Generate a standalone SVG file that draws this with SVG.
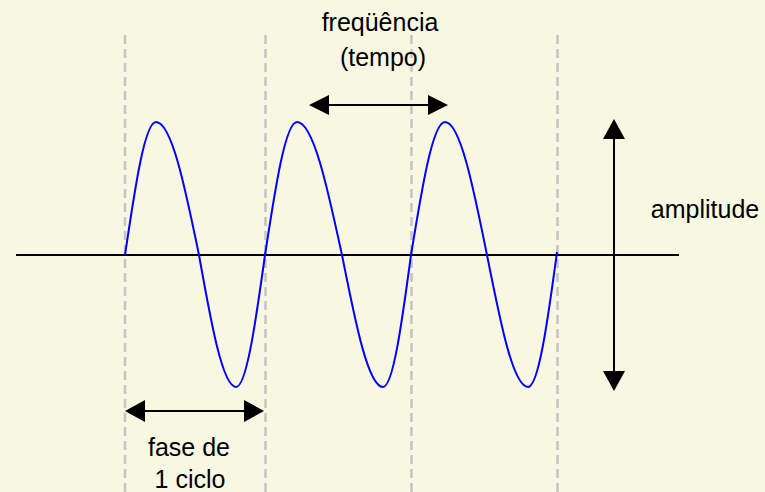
<svg xmlns="http://www.w3.org/2000/svg" width="765" height="492" viewBox="0 0 765 492">
<style>
.grid{stroke:#c4c4c4;stroke-width:2.5;stroke-dasharray:9,5;fill:none}
.axis{stroke:#000;stroke-width:2;fill:none}
.wave{stroke:#0000ff;stroke-width:2;fill:none;stroke-linejoin:round}
.arr{stroke:#000;stroke-width:2;fill:none}
.head{fill:#000;stroke:none}
.lbl{font-family:"Liberation Sans",Arial,sans-serif;font-size:25px;fill:#000;text-anchor:middle}
</style>
<rect x="0" y="0" width="765" height="492" fill="#f8f7e1"/>
<g id="gridlines">
<line class="grid" x1="125" y1="35" x2="125" y2="492"/>
<line class="grid" x1="265.5" y1="35" x2="265.5" y2="492"/>
<line class="grid" x1="411.5" y1="35" x2="411.5" y2="492"/>
<line class="grid" x1="557.5" y1="35" x2="557.5" y2="492"/>
</g>
<g id="axis">
<line class="axis" x1="16" y1="255" x2="679" y2="255"/>
</g>
<g id="wave">
<path class="wave" d="M125,255 C135.1,186.8 144.8,122 156,122 C171.5,122 185,186.8 199,255 C211.1,323.2 222.7,387 236,387 C246.4,387 255.5,323.2 265,255 C275.4,186.8 285.5,122 297,122 C313.2,122 327.3,186.8 342,255 C355.4,322.7 368.2,387 383,387 C393.1,387 401.9,322.7 411,255 C422.1,186.8 432.8,122 445,122 C460.1,122 473.3,186.8 487,255 C500.4,322.7 513.2,387 528,387 C538.4,387 547.5,322.7 557,252"/>
</g>
<g id="connectors">
<g id="freq-arrow">
<line class="arr" x1="325" y1="105" x2="432" y2="105"/>
<polygon class="head" points="309,105 329,95 329,115"/>
<polygon class="head" points="448,105 428,95 428,115"/>
</g>
<g id="fase-arrow">
<line class="arr" x1="140" y1="411" x2="250" y2="411"/>
<polygon class="head" points="125,411 145,400 145,422"/>
<polygon class="head" points="264,411 244,400 244,422"/>
</g>
<g id="amp-arrow">
<line class="arr" x1="614" y1="135" x2="614" y2="375"/>
<polygon class="head" points="614,119 603,139 625,139"/>
<polygon class="head" points="614,391 603,371 625,371"/>
</g>
</g>
<g id="label-freq">
<text class="lbl" x="380" y="31">freqüência</text>
<text class="lbl" x="383" y="66">(tempo)</text>
</g>
<g id="label-amp">
<text class="lbl" x="705" y="218">amplitude</text>
</g>
<g id="label-fase">
<text class="lbl" x="189" y="456">fase de</text>
<text class="lbl" x="190" y="488">1 ciclo</text>
</g>
</svg>
